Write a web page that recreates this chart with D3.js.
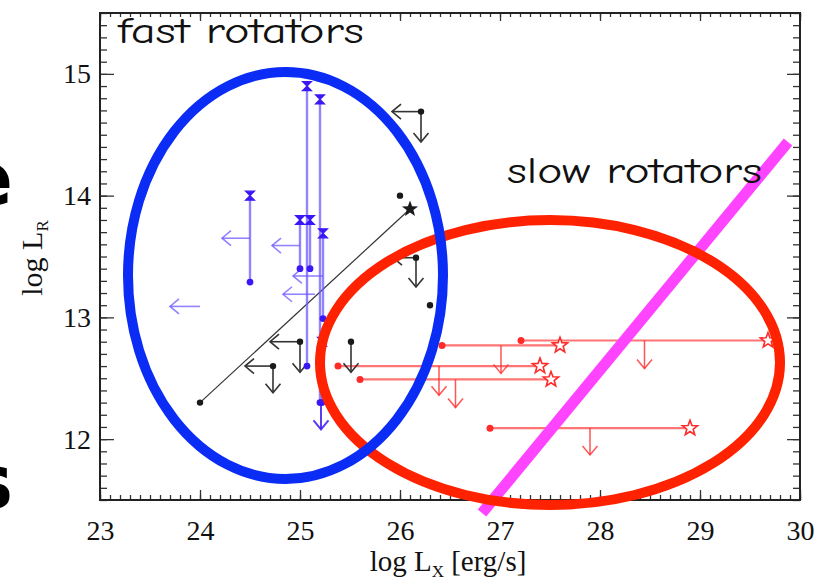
<!DOCTYPE html>
<html><head><meta charset="utf-8">
<script src="https://cdn.jsdelivr.net/npm/d3@7"></script>
<style>body{margin:0;background:#fff}svg{display:block}</style>
</head><body>
<svg id="chart" width="819" height="582"></svg>
<script>
// Axis ticks
const xTicks = [23, 24, 25, 26, 27, 28, 29, 30];
const yTicks = [12, 13, 14, 15];

// Fast rotators: radio ranges [log Lx, low log LR, high log LR]
const fastRanges = [
  [24.50, 13.29, 14.00],
  [25.00, 13.40, 13.80],
  [25.10, 13.40, 13.80],
  [25.07, 12.60, 14.90],
  [25.20, 12.30, 14.79],
  [25.23, 12.99, 13.69],
  [25.22, 12.30, 12.80]
];
// Fast rotators: X-ray upper limits [from x, to x, y]
const fastLeftArrows = [
  [24.50, 24.22, 13.65],
  [25.00, 24.72, 13.59],
  [25.23, 24.93, 13.34],
  [25.15, 24.83, 13.19],
  [24.00, 23.70, 13.09]
];
// Fast rotators: radio upper limits [x, from y, to y]
const fastDownArrows = [[25.21, 12.30, 12.08]];

// Black sources: evolution track and detections
const trackStart = [24.00, 12.30];
const trackEnd = [26.10, 13.89];
const blackDots = [[24.00, 12.30], [26.00, 14.00], [26.30, 13.10]];
// Black upper limits [x, y, left tip x, down tip y]
const blackLimits = [
  [26.21, 14.69, 25.92, 14.44],
  [26.16, 13.49, 25.93, 13.25],
  [25.00, 12.80, 24.70, 12.55],
  [24.73, 12.60, 24.45, 12.38],
  [25.51, 12.80, null, 12.55]
];

// Slow rotators: [log LR, x of dot, x of star, down tip y]
const slowRanges = [
  [12.81, 27.21, 29.68, 12.58],
  [12.77, 26.42, 27.60, 12.54],
  [12.60, 25.38, 27.40, 12.36],
  [12.49, 25.60, 27.51, 12.26],
  [12.09, 26.90, 28.90, 11.87]
];

// Group outlines [cx, cy, rx, ry] and dividing line
const fastEllipse = [24.855, 13.344, 1.575, 1.671];
const slowEllipse = [27.50, 12.629, 2.30, 1.170];
const divider = [[26.82, 11.393], [29.88, 14.44]];

const svg = d3.select("#chart");
const x = d3.scaleLinear().domain([23, 30]).range([100, 800]);
const y = d3.scaleLinear().domain([11.5, 15.5]).range([500, 13]);

const serif = "'Liberation Serif','Times New Roman',serif";
const hand = "'Comic Sans MS','Comic Neue','DejaVu Sans',sans-serif";

// slide text running off the left edge
svg.append("text").attr("x", 13).attr("y", 205).attr("text-anchor", "end")
  .attr("font-family", "'DejaVu Sans',sans-serif").attr("font-weight", "bold")
  .attr("font-size", 74).text("e");
svg.append("text").attr("x", 13).attr("y", 508).attr("text-anchor", "end")
  .attr("font-family", "'DejaVu Sans',sans-serif").attr("font-weight", "bold")
  .attr("font-size", 74).text("s");

// ticks on all four sides, pointing inward
function styleAxis(g) {
  g.select(".domain").remove();
  g.selectAll(".tick line").attr("stroke", "#333").attr("stroke-width", 1.3);
  g.selectAll("text").attr("font-family", serif).attr("font-size", 28).attr("fill", "#111");
}
const minorX = d3.range(230, 301).map(d => d / 10);
const minorY = d3.range(115, 156).map(d => d / 10);

svg.append("g").attr("transform", "translate(0,500)")
  .call(d3.axisBottom(x).tickValues(minorX).tickSize(-5).tickFormat("")).call(styleAxis);
svg.append("g").attr("transform", "translate(0,500)")
  .call(d3.axisBottom(x).tickValues(xTicks).tickSize(-10).tickPadding(20).tickFormat(d3.format("d"))).call(styleAxis);
svg.append("g").attr("transform", "translate(0,13)")
  .call(d3.axisTop(x).tickValues(minorX).tickSize(-4).tickFormat("")).call(styleAxis);
svg.append("g").attr("transform", "translate(0,13)")
  .call(d3.axisTop(x).tickValues(xTicks).tickSize(-8).tickFormat("")).call(styleAxis);
svg.append("g").attr("transform", "translate(100,0)")
  .call(d3.axisLeft(y).tickValues(minorY).tickSize(-7).tickFormat("")).call(styleAxis);
svg.append("g").attr("transform", "translate(100,0)")
  .call(d3.axisLeft(y).tickValues(yTicks).tickSize(-14).tickPadding(9).tickFormat(d3.format("d"))).call(styleAxis);
svg.append("g").attr("transform", "translate(800,0)")
  .call(d3.axisRight(y).tickValues(minorY).tickSize(-7).tickFormat("")).call(styleAxis);
svg.append("g").attr("transform", "translate(800,0)")
  .call(d3.axisRight(y).tickValues(yTicks).tickSize(-13).tickFormat("")).call(styleAxis);

svg.append("rect").attr("x", x(23)).attr("y", y(15.5))
  .attr("width", x(30) - x(23)).attr("height", y(11.5) - y(15.5))
  .attr("fill", "none").attr("stroke", "#222").attr("stroke-width", 2);

// axis titles
const xt = svg.append("text").attr("x", 448).attr("y", 571).attr("text-anchor", "middle")
  .attr("font-family", serif).attr("font-size", 29).attr("fill", "#111");
xt.append("tspan").text("log L");
xt.append("tspan").attr("font-size", 17).attr("dy", 6).text("X");
xt.append("tspan").attr("dy", -6).text(" [erg/s]");

const yt = svg.append("text").attr("transform", "translate(42,258) rotate(-90)")
  .attr("text-anchor", "middle").attr("font-family", serif).attr("font-size", 30).attr("fill", "#111");
yt.append("tspan").text("log L");
yt.append("tspan").attr("font-size", 17).attr("dy", 6).text("R");

// helpers
const plot = svg.append("g");
function arrow(g, x1, y1, x2, y2, color, width) {
  g.append("line").attr("x1", x1).attr("y1", y1).attr("x2", x2).attr("y2", y2)
    .attr("stroke", color).attr("stroke-width", width);
  const L = Math.hypot(x2 - x1, y2 - y1), ux = (x2 - x1) / L, uy = (y2 - y1) / L;
  const h = 9, w = 7.5;
  const p = `M${x2 - h * ux + w * uy},${y2 - h * uy - w * ux}L${x2},${y2}L${x2 - h * ux - w * uy},${y2 - h * uy + w * ux}`;
  g.append("path").attr("d", p).attr("fill", "none").attr("stroke", color).attr("stroke-width", width);
}
function starPath(cx, cy, R) {
  const pts = [];
  for (let i = 0; i < 10; i++) {
    const r = i % 2 ? R * 0.42 : R;
    const a = -Math.PI / 2 + i * Math.PI / 5;
    pts.push([cx + r * Math.cos(a), cy + r * Math.sin(a)]);
  }
  return "M" + pts.map(p => p.join(",")).join("L") + "Z";
}

// slow rotators (red)
const red = "#ff2a2a";
slowRanges.forEach(([ly, x0, x1, tip]) => {
  plot.append("line").attr("x1", x(x0)).attr("x2", x(x1)).attr("y1", y(ly)).attr("y2", y(ly))
    .attr("stroke", red).attr("stroke-opacity", 0.65).attr("stroke-width", 2.2);
  const xm = (x0 + x1) / 2;
  arrow(plot, x(xm), y(ly), x(xm), y(tip), "rgba(255,42,42,0.8)", 1.5);
  plot.append("circle").attr("cx", x(x0)).attr("cy", y(ly)).attr("r", 3.5).attr("fill", red);
  plot.append("path").attr("d", starPath(x(x1), y(ly), 8)).attr("fill", "#fff")
    .attr("stroke", red).attr("stroke-width", 1.6);
});

// black sources
const blk = "#1a1a1a";
plot.append("line").attr("x1", x(trackStart[0])).attr("y1", y(trackStart[1]))
  .attr("x2", x(trackEnd[0])).attr("y2", y(trackEnd[1]))
  .attr("stroke", "#333").attr("stroke-width", 1.2);
blackLimits.forEach(([lx, ly, tx, ty]) => {
  if (tx !== null) arrow(plot, x(lx), y(ly), x(tx), y(ly), "#333", 1.6);
  arrow(plot, x(lx), y(ly), x(lx), y(ty), "#333", 1.6);
  plot.append("circle").attr("cx", x(lx)).attr("cy", y(ly)).attr("r", 3.2).attr("fill", blk);
});
blackDots.forEach(([lx, ly]) => {
  plot.append("circle").attr("cx", x(lx)).attr("cy", y(ly)).attr("r", 3.2).attr("fill", blk);
});
plot.append("path").attr("d", starPath(x(trackEnd[0]), y(trackEnd[1]), 8.5)).attr("fill", blk);

// fast rotators (blue)
const blueLine = "rgba(110,90,255,0.75)";
const blueMark = "#3a18f5";
fastRanges.forEach(([lx, lo, hi]) => {
  plot.append("line").attr("x1", x(lx)).attr("x2", x(lx)).attr("y1", y(lo)).attr("y2", y(hi))
    .attr("stroke", blueLine).attr("stroke-width", 2.4);
});
fastLeftArrows.forEach(([x0, x1, ly]) => arrow(plot, x(x0), y(ly), x(x1), y(ly), blueLine, 1.6));
fastDownArrows.forEach(([lx, y0, y1]) => arrow(plot, x(lx), y(y0), x(lx), y(y1), "rgba(70,40,240,0.9)", 2));
fastRanges.forEach(([lx, lo, hi]) => {
  const cx = x(lx), ty = y(hi);
  plot.append("path").attr("d", `M${cx - 4.5},${ty - 4.5}L${cx + 4.5},${ty - 4.5}L${cx - 4.5},${ty + 4.5}L${cx + 4.5},${ty + 4.5}Z`)
    .attr("fill", blueMark).attr("stroke", blueMark).attr("stroke-width", 1.2);
  plot.append("circle").attr("cx", cx).attr("cy", y(lo)).attr("r", 3.4).attr("fill", blueMark);
});

// dividing line and group outlines
plot.append("line").attr("x1", x(divider[0][0])).attr("y1", y(divider[0][1]))
  .attr("x2", x(divider[1][0])).attr("y2", y(divider[1][1]))
  .attr("stroke", "#ff44ff").attr("stroke-width", 11);
function outline(e, color) {
  const [cx, cy, rx, ry] = e;
  plot.append("ellipse").attr("cx", x(cx)).attr("cy", y(cy))
    .attr("rx", x(cx + rx) - x(cx)).attr("ry", y(cy) - y(cy + ry))
    .attr("fill", "none").attr("stroke", color).attr("stroke-width", 10);
}
outline(slowEllipse, "#ff2200");
outline(fastEllipse, "#0a2cf5");

// group labels
svg.append("text").attr("x", 118).attr("y", 43).attr("font-family", hand).attr("font-size", 36)
  .attr("textLength", 246).attr("lengthAdjust", "spacingAndGlyphs").attr("fill", "#111").text("fast rotators");
svg.append("text").attr("x", 507).attr("y", 183).attr("font-family", hand).attr("font-size", 36)
  .attr("textLength", 255).attr("lengthAdjust", "spacingAndGlyphs").attr("fill", "#111").text("slow rotators");
</script>
</body></html>
